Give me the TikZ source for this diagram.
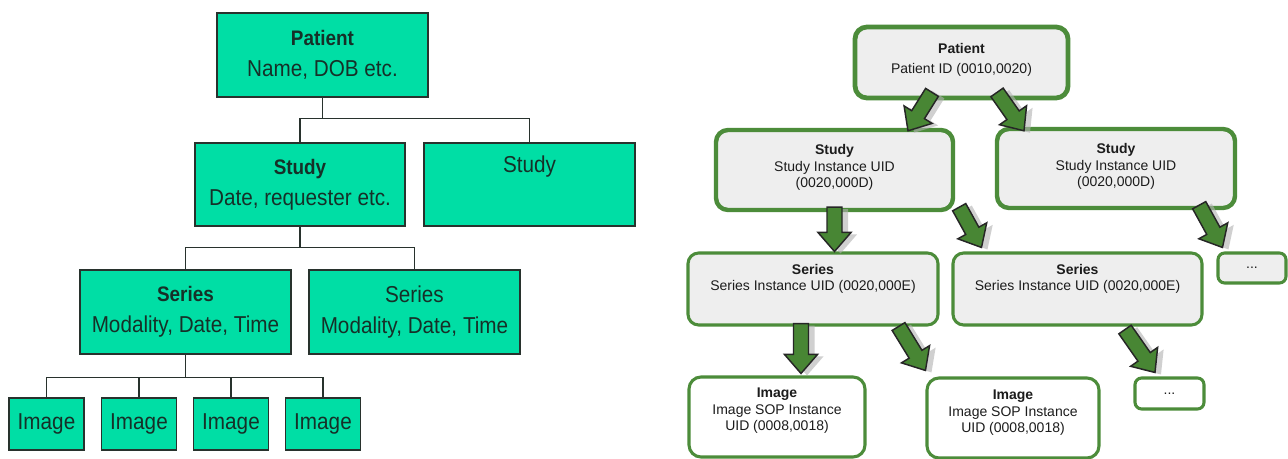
\documentclass[tikz,border=0pt]{standalone}
\usepackage{fontspec}
\setmainfont{Liberation Sans}
\newfontfamily\narrowsans{Liberation Sans}[FakeStretch=0.9]
\usetikzlibrary{calc}

\definecolor{tealfill}{RGB}{0,222,165}
\definecolor{tealtext}{RGB}{22,48,40}
\definecolor{boxline}{RGB}{40,50,45}
\definecolor{leafgreen}{RGB}{76,140,58}
\definecolor{arrowgreen}{RGB}{72,134,52}
\definecolor{panelgray}{RGB}{238,238,238}
\definecolor{inktext}{RGB}{28,28,28}

% block arrow from #1 (tail) to #2 (tip), with a soft drop shadow
\newcommand\blockarrow[2]{%
  \path let \p1=(#1), \p2=(#2) in \pgfextra{%
    \pgfmathsetmacro\baang{atan2(\y2-\y1,\x2-\x1)}%
    \pgfmathsetmacro\balen{veclen(\x2-\x1,\y2-\y1)/0.75}%
    \xdef\baang{\baang}\xdef\balen{\balen}%
    \xdef\bax{\x1}\xdef\bay{\y1}};
  \fill[arrowshadow, shift={(6,2)}, shift={(\bax,\bay)}, rotate=\baang]
    (0,-7.5) -- (\balen-19,-7.5) -- (\balen-19,-16.5) -- (\balen,0)
    -- (\balen-19,16.5) -- (\balen-19,7.5) -- (0,7.5) -- cycle;
  \filldraw[arrowbody, shift={(\bax,\bay)}, rotate=\baang]
    (0,-7.5) -- (\balen-19,-7.5) -- (\balen-19,-16.5) -- (\balen,0)
    -- (\balen-19,16.5) -- (\balen-19,7.5) -- (0,7.5) -- cycle;
}

\newcommand\lbold{\bfseries\fontsize{15.75}{23.5}\selectfont}

\begin{document}
\begin{tikzpicture}[x=0.75pt, y=-0.75pt,
  boxsize/.style 2 args={minimum width=#1*0.75pt, minimum height=#2*0.75pt},
  tealfont/.style={font=\narrowsans\fontsize{17.25}{23.5}\selectfont},
  tealbox/.style={draw=boxline, line width=1.1pt, fill=tealfill, text=tealtext,
    tealfont, align=center, inner sep=0pt},
  lconn/.style={draw=boxline, line width=1.1pt},
  uidbox/.style={draw=leafgreen, fill=panelgray, rounded corners=9pt, inner sep=0pt},
  toplevel/.style={uidbox, line width=3.6pt},
  midlevel/.style={uidbox, line width=2.3pt, rounded corners=8pt},
  leaflevel/.style={uidbox, line width=2.3pt, fill=white, rounded corners=9pt},
  dotbox/.style={uidbox, line width=2.3pt, rounded corners=5pt,
    text=inktext, font=\fontsize{10.5}{12.4}\selectfont},
  rtext/.style={text=inktext, align=center, inner sep=0pt,
    font=\fontsize{10.5}{12.4}\selectfont},
  arrowbody/.style={fill=arrowgreen, draw=black!85, line width=1.1pt, line join=miter},
  arrowshadow/.style={fill=black!30, opacity=0.6}
]
\useasboundingbox (0,0) rectangle (1288,459);
\fill[white] (0,0) rectangle (1288,459);

% ---------------- left: plain hierarchy ----------------
\node[tealbox, boxsize={211}{84}] (lpat) at (322.5,55) {{\lbold Patient}\\Name, DOB etc.};
\node[tealbox, boxsize={210}{83}] (lst1) at (300,184.5) {{\lbold Study}\\Date, requester etc.};
\node[tealbox, boxsize={211}{83}] (lst2) at (529.5,184.5) {};
\node[text=tealtext, tealfont, inner sep=0pt] (lst2-t) at (529.5,167) {Study};
\node[tealbox, boxsize={211}{84}] (lse1) at (185.5,312) {{\lbold Series}\\Modality, Date, Time};
\node[tealbox, boxsize={211}{84}] (lse2) at (414.5,312) {Series\\Modality, Date, Time};
\node[tealbox, boxsize={75}{52}] (limg1) at (46.5,424) {Image};
\node[tealbox, boxsize={75}{52}] (limg2) at (139,424) {Image};
\node[tealbox, boxsize={75}{52}] (limg3) at (231,424) {Image};
\node[tealbox, boxsize={75}{52}] (limg4) at (323,424) {Image};

\coordinate (lbus1) at ($(lpat.south)+(0,21)$);
\coordinate (lbus2) at ($(lst1.south)+(0,21)$);
\coordinate (lbus3) at ($(lse1.south)+(0,23)$);
\draw[lconn] (lpat.south) -- (lbus1);
\draw[lconn] (lst1.north) |- (lbus1) -| (lst2.north);
\draw[lconn] (lst1.south) -- (lbus2);
\draw[lconn] (lse1.north) |- (lbus2) -| (lse2.north);
\draw[lconn] (lse1.south) -- (lbus3);
\draw[lconn] (limg1.north) |- (lbus3) -| (limg4.north);
\draw[lconn] (limg2.north) -- (limg2.north |- lbus3);
\draw[lconn] (limg3.north) -- (limg3.north |- lbus3);

% ---------------- right: DICOM identifiers ----------------
\node[toplevel, boxsize={213}{71}] (rpat) at (961.5,62.5) {};
\node[rtext, font=\fontsize{10.5}{15}\selectfont] (rpat-t) at (961.5,59.5) {\textbf{Patient}\\Patient ID (0010,0020)};
\node[toplevel, line width=3.3pt, boxsize={237}{80}] (rst1) at (834.5,170) {};
\node[rtext] (rst1-t) at (834.5,167.5) {\textbf{Study}\\Study Instance UID\\(0020,000D)};
\node[toplevel, line width=3.3pt, boxsize={238}{79}] (rst2) at (1116,168.5) {};
\node[rtext] (rst2-t) at (1116,166.5) {\textbf{Study}\\Study Instance UID\\(0020,000D)};
\node[midlevel, boxsize={250}{72}] (rse1) at (813,289) {};
\node[rtext] (rse1-t) at (813,279) {\textbf{Series}\\Series Instance UID (0020,000E)};
\node[midlevel, boxsize={249}{72}] (rse2) at (1077.5,289) {};
\node[rtext] (rse2-t) at (1077.5,279) {\textbf{Series}\\Series Instance UID (0020,000E)};
\node[dotbox, boxsize={68}{30}] (rdot1) at (1252,268) {...};
\node[leaflevel, boxsize={176}{80}] (rimg1) at (777,417) {};
\node[rtext] (rimg1-t) at (777,411) {\textbf{Image}\\Image SOP Instance\\UID (0008,0018)};
\node[leaflevel, boxsize={172}{80}] (rimg2) at (1013,418) {};
\node[rtext] (rimg2-t) at (1013,413) {\textbf{Image}\\Image SOP Instance\\UID (0008,0018)};
\node[dotbox, fill=white, boxsize={69}{31}] (rdot2) at (1169.5,393.5) {...};

% arrow end points, hooked to the boxes they join
\coordinate (a1s) at ($(rpat.south)+(-29.5,-8)$);
\coordinate (a1e) at ($(rst1.north)+(73.5,3)$);
\coordinate (a2s) at ($(rpat.south)+(35.5,-8)$);
\coordinate (a2e) at ($(rst2.north)+(-92,4)$);
\coordinate (a3s) at ($(rst1.south)+(0,-5)$);
\coordinate (a3e) at (a3s |- rse1.north);
\coordinate (a4s) at ($(rst1.south east)+(4,-5)$);
\coordinate (a4e) at ($(rse2.north west)+(30,-4)$);
\coordinate (a5s) at ($(rst2.south east)+(-38,-5)$);
\coordinate (a5e) at ($(rdot1.north west)+(6,-4)$);
\coordinate (a6s) at ($(rse1.south)+(-12,-3)$);
\coordinate (a6e) at ($(a6s |- rimg1.north)+(0,-2)$);
\coordinate (a7s) at ($(rse1.south east)+(-41,0)$);
\coordinate (a7e) at ($(rimg2.north west)+(0,-6)$);
\coordinate (a8s) at ($(rse2.south)+(47.5,3)$);
\coordinate (a8e) at ($(rdot2.north)+(-14.5,-4)$);

\blockarrow{a1s}{a1e}
\blockarrow{a2s}{a2e}
\blockarrow{a3s}{a3e}
\blockarrow{a4s}{a4e}
\blockarrow{a5s}{a5e}
\blockarrow{a6s}{a6e}
\blockarrow{a7s}{a7e}
\blockarrow{a8s}{a8e}
\end{tikzpicture}
\end{document}
